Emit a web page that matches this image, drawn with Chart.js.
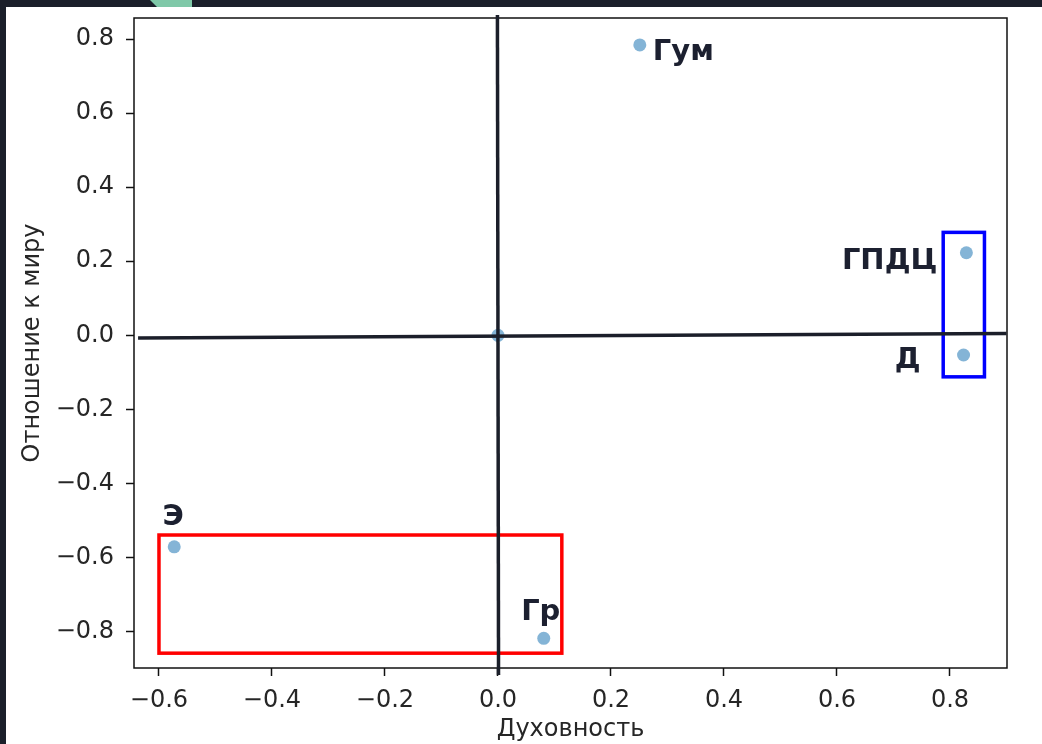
<!DOCTYPE html>
<html>
<head>
<meta charset="utf-8">
<script src="https://cdn.jsdelivr.net/npm/chart.js@4"></script>
<style>
  html, body { margin: 0; padding: 0; background: #1b1f2a; }
  canvas { display: block; }
</style>
</head>
<body>
<canvas id="chart" width="1042" height="744"></canvas>
<script>
// point data
const names = ['Гум', 'ГПДЦ', 'Д', '', 'Э', 'Гр'];
const xValues = [0.251, 0.829, 0.824, 0.0, -0.573, 0.081];
const yValues = [0.784, 0.223, -0.053, 0.0, -0.571, -0.818];

// axis ticks
const xTicks = [-0.6, -0.4, -0.2, 0.0, 0.2, 0.4, 0.6, 0.8];
const yTicks = [-0.8, -0.6, -0.4, -0.2, 0.0, 0.2, 0.4, 0.6, 0.8];

// hand drawn marks (data units)
const vLineX = [-0.001, 0.001];
const vLineY = [0.865, -0.917];
const hLineX = [-0.637, 0.900];
const hLineY = [-0.007, 0.005];
const blueBoxX = [0.788, 0.861];
const blueBoxY = [0.278, -0.112];
const redBoxX = [-0.600, 0.113];
const redBoxY = [-0.539, -0.858];

// label placement per point: [dx, dy, align]
const labelOffsets = [
    [13, 15, 'left'],
    [-29, 16, 'right'],
    [-43, 13, 'right'],
    [0, 0, 'center'],
    [-1, -22, 'center'],
    [-3, -18, 'center']
];

function fmt(v) {
    const s = Math.abs(v).toFixed(1);
    return (v < -1e-9 ? '\u2212' : '') + s;
}

const backdrop = {
    id: 'backdrop',
    beforeDraw(chart) {
        const ctx = chart.ctx;
        ctx.save();
        ctx.fillStyle = '#1b1f2a';
        ctx.fillRect(0, 0, chart.width, chart.height);
        ctx.fillStyle = '#ffffff';
        ctx.fillRect(6, 7, chart.width - 6, chart.height - 7);
        ctx.fillStyle = '#7fc8a8';
        ctx.beginPath();
        ctx.moveTo(150, 0);
        ctx.lineTo(192, 0);
        ctx.lineTo(192, 7);
        ctx.lineTo(157, 7);
        ctx.closePath();
        ctx.fill();
        ctx.restore();
    },
    afterDraw(chart) {
        const ctx = chart.ctx;
        const xs = chart.scales.x, ys = chart.scales.y;
        const a = chart.chartArea;
        ctx.save();
        // frame
        ctx.strokeStyle = '#111';
        ctx.lineWidth = 1.5;
        ctx.strokeRect(a.left, a.top, a.right - a.left, a.bottom - a.top);

        // boxes
        function box(bx, by, color) {
            const x1 = xs.getPixelForValue(bx[0]), x2 = xs.getPixelForValue(bx[1]);
            const y1 = ys.getPixelForValue(by[0]), y2 = ys.getPixelForValue(by[1]);
            ctx.strokeStyle = color;
            ctx.lineWidth = 3.5;
            ctx.strokeRect(x1, y1, x2 - x1, y2 - y1);
        }
        box(blueBoxX, blueBoxY, '#0000ff');
        box(redBoxX, redBoxY, '#ff0000');

        // cross lines
        function line(lx, ly) {
            ctx.strokeStyle = '#1b1f2a';
            ctx.lineWidth = 3.5;
            ctx.beginPath();
            ctx.moveTo(xs.getPixelForValue(lx[0]), ys.getPixelForValue(ly[0]));
            ctx.lineTo(xs.getPixelForValue(lx[1]), ys.getPixelForValue(ly[1]));
            ctx.stroke();
        }
        line(vLineX, vLineY);
        line(hLineX, hLineY);

        // labels
        ctx.fillStyle = '#1c2030';
        ctx.font = 'bold 29px "DejaVu Sans"';
        ctx.textBaseline = 'alphabetic';
        names.forEach(function(n, i) {
            if (!n) return;
            const o = labelOffsets[i];
            ctx.textAlign = o[2];
            ctx.fillText(n, xs.getPixelForValue(xValues[i]) + o[0], ys.getPixelForValue(yValues[i]) + o[1]);
        });
        ctx.restore();
    }
};

const tickFont = { family: '"DejaVu Sans"', size: 24 };

new Chart(document.getElementById('chart'), {
    type: 'scatter',
    data: {
        datasets: [{
            data: xValues.map((x, i) => ({ x: x, y: yValues[i] })),
            backgroundColor: 'rgba(31, 119, 180, 0.55)',
            borderColor: 'rgba(31, 119, 180, 0.55)',
            borderWidth: 0,
            pointRadius: 6.5,
            pointHoverRadius: 6.5
        }]
    },
    options: {
        responsive: false,
        animation: false,
        devicePixelRatio: 1,
        layout: { padding: { top: 18, right: 35, left: 0, bottom: 0 } },
        plugins: { legend: { display: false }, tooltip: { enabled: false } },
        scales: {
            x: {
                type: 'linear',
                min: -0.6442,
                max: 0.9009,
                afterBuildTicks: s => { s.ticks = xTicks.map(v => ({ value: v })); },
                afterFit: s => { s.height = 76; s.paddingLeft = 0; s.paddingRight = 0; },
                grid: { drawOnChartArea: false, drawTicks: true, tickLength: 8, tickColor: '#111', tickWidth: 1.5 },
                border: { display: false },
                ticks: { font: tickFont, color: '#262626', padding: 10, maxRotation: 0, callback: v => fmt(v) },
                title: { display: true, text: 'Духовность', font: tickFont, color: '#262626', padding: { top: 0, bottom: 0 } }
            },
            y: {
                type: 'linear',
                min: -0.898,
                max: 0.8567,
                afterBuildTicks: s => { s.ticks = yTicks.map(v => ({ value: v })); },
                afterFit: s => { s.width = 134; s.paddingTop = 0; s.paddingBottom = 0; },
                grid: { drawOnChartArea: false, drawTicks: true, tickLength: 8, tickColor: '#111', tickWidth: 1.5 },
                border: { display: false },
                ticks: { font: tickFont, color: '#262626', padding: 12, callback: v => fmt(v) },
                title: { display: true, text: 'Отношение к миру', font: tickFont, color: '#262626', padding: { top: 18, bottom: 0 } }
            }
        }
    },
    plugins: [backdrop]
});
</script>
</body>
</html>
